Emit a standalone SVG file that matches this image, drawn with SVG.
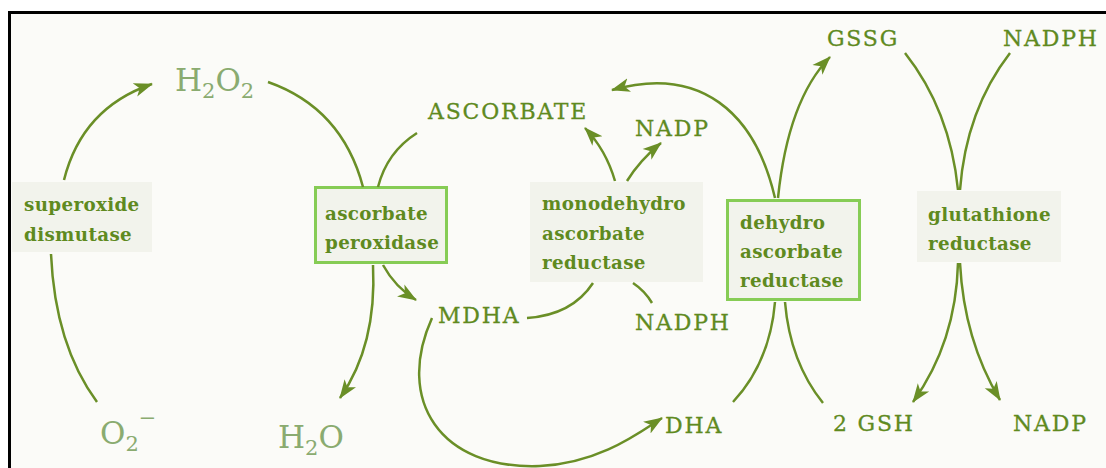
<svg xmlns="http://www.w3.org/2000/svg" width="1106" height="468" viewBox="0 0 1106 468">
<style>
.lbl{font-family:"DejaVu Serif","Liberation Serif",serif;font-size:22px;fill:#5f8a1f;stroke:#5f8a1f;stroke-width:0.3;letter-spacing:1.8px}
.chem{font-family:"DejaVu Serif","Liberation Serif",serif;font-size:31px;fill:#8aab70}
.sub{font-size:21px}
.enz{font-family:"DejaVu Serif","Liberation Serif",serif;font-size:18.3px;font-weight:bold;fill:#5f8a1f;letter-spacing:0.35px}
.box{fill:#f2f3ec}
.boxb{fill:#f2f3ec;stroke:#86cc55;stroke-width:3}
.c{fill:none;stroke:#6a8f27;stroke-width:2.5}
.a{marker-end:url(#ah)}
</style>
<defs>
<marker id="ah" markerUnits="userSpaceOnUse" markerWidth="22" markerHeight="16" refX="18" refY="8" orient="auto">
<path d="M0,1 L19,8 L0,15 L5,8 Z" fill="#6a8f27"/>
</marker>
</defs>
<rect x="0" y="0" width="1106" height="468" fill="#ffffff"/>
<rect x="9" y="13" width="1097" height="455" fill="#fbfbf8"/>
<path d="M9.5,468 V12.5 H1106" fill="none" stroke="#000" stroke-width="3"/>

<g id="superoxide-dismutase">
<rect class="box" x="12" y="182" width="140" height="70"/>
<text class="enz" x="24" y="211">superoxide</text>
<text class="enz" x="24" y="241">dismutase</text>
</g>
<g id="ascorbate-peroxidase">
<rect class="boxb" x="315.5" y="187.5" width="131" height="75"/>
<text class="enz" x="325" y="220">ascorbate</text>
<text class="enz" x="325" y="249">peroxidase</text>
</g>
<g id="mdha-reductase">
<rect class="box" x="530" y="182" width="173" height="100"/>
<text class="enz" x="542" y="210">monodehydro</text>
<text class="enz" x="542" y="240">ascorbate</text>
<text class="enz" x="542" y="269">reductase</text>
</g>
<g id="dha-reductase">
<rect class="boxb" x="727.5" y="200.5" width="132" height="99"/>
<text class="enz" x="740" y="229">dehydro</text>
<text class="enz" x="740" y="258">ascorbate</text>
<text class="enz" x="740" y="287">reductase</text>
</g>
<g id="glutathione-reductase">
<rect class="box" x="917" y="191" width="144" height="71"/>
<text class="enz" x="928" y="221">glutathione</text>
<text class="enz" x="928" y="250">reductase</text>
</g>

<g id="h2o2"><text class="chem" x="175" y="91">H<tspan class="sub" dy="7">2</tspan><tspan dy="-7">O</tspan><tspan class="sub" dy="7">2</tspan></text></g>
<g id="o2"><text class="chem" x="100" y="444">O<tspan class="sub" dy="7">2</tspan><tspan class="sub" dy="-26">−</tspan></text></g>
<g id="h2o"><text class="chem" x="278" y="448">H<tspan class="sub" dy="7">2</tspan><tspan dy="-7">O</tspan></text></g>
<g id="ascorbate"><text class="lbl" x="428" y="119">ASCORBATE</text></g>
<g id="nadp1"><text class="lbl" x="635" y="136">NADP</text></g>
<g id="mdha"><text class="lbl" x="438" y="323">MDHA</text></g>
<g id="nadph1"><text class="lbl" x="635" y="330">NADPH</text></g>
<g id="dha"><text class="lbl" x="665" y="433">DHA</text></g>
<g id="gssg"><text class="lbl" x="827" y="46">GSSG</text></g>
<g id="nadph2"><text class="lbl" x="1003" y="46">NADPH</text></g>
<g id="gsh"><text class="lbl" x="833" y="431">2 GSH</text></g>
<g id="nadp2"><text class="lbl" x="1013" y="431">NADP</text></g>

<g id="connectors">
<path class="c a" d="M64,180 Q82,108 152,84"/>
<path class="c" d="M97,402 Q55,345 51,254"/>
<path class="c" d="M268,82 Q342,108 363,187"/>
<path class="c" d="M417,133 Q387,152 378,187"/>
<path class="c a" d="M373,265 Q377,345 340,398"/>
<path class="c a" d="M383,265 Q395,287 416,300"/>
<path class="c a" d="M432,318 C395,400 440,470 540,466 C600,463 640,432 662,418"/>
<path class="c" d="M527,318 Q572,315 593,283"/>
<path class="c" d="M652,303 Q645,291 633,283"/>
<path class="c a" d="M615,181 Q606,150 585,128"/>
<path class="c a" d="M627,181 Q640,160 661,143"/>
<path class="c a" d="M775,198 C755,112 700,65 612,90"/>
<path class="c a" d="M778,198 Q788,100 830,57"/>
<path class="c" d="M733,402 Q770,362 775,302"/>
<path class="c" d="M785,302 Q790,362 823,403"/>
<path class="c" d="M905,53 Q950,110 958,190"/>
<path class="c" d="M1010,53 Q966,110 960,190"/>
<path class="c a" d="M958,263 Q956,342 913,402"/>
<path class="c a" d="M960,263 Q964,340 1000,400"/>
</g>
</svg>
